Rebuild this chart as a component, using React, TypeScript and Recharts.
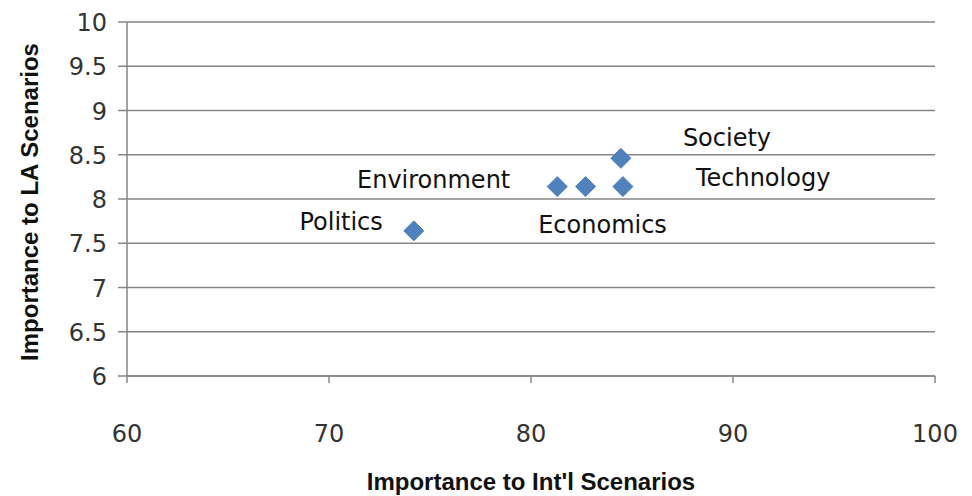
import { CartesianGrid, Scatter, ScatterChart, XAxis, YAxis } from "recharts";

const topics = ["Politics", "Environment", "Economics", "Society", "Technology"];
const intlScore = [74.2, 81.3, 82.7, 84.45, 84.55];
const laScore = [7.64, 8.14, 8.14, 8.46, 8.14];
const xTicks = [60, 70, 80, 90, 100];
const yTicks = [6, 6.5, 7, 7.5, 8, 8.5, 9, 9.5, 10];

const data = topics.map((name, i) => ({ name, x: intlScore[i], y: laScore[i] }));

// where each point's label sits relative to the marker (baseline offsets)
const labelPos: Record<string, { dx: number; dy: number; anchor: "start" | "middle" | "end" }> = {
  Politics: { dx: -31, dy: -1, anchor: "end" },
  Environment: { dx: -47, dy: 1, anchor: "end" },
  Economics: { dx: 17, dy: 46, anchor: "middle" },
  Society: { dx: 62, dy: -12, anchor: "start" },
  Technology: { dx: 73, dy: -1, anchor: "start" },
};

const LABEL_FONT = "DejaVu Sans, sans-serif";
const TITLE_FONT = "Liberation Sans, Arial, sans-serif";
const BLUE = "#4F81BD";

function Diamond(props: any) {
  const { cx, cy, payload } = props;
  const p = labelPos[payload.name];
  return (
    <g>
      <polygon points={`${cx},${cy - 10} ${cx + 10},${cy} ${cx},${cy + 10} ${cx - 10},${cy}`} fill={BLUE} stroke={BLUE} strokeWidth={1} strokeLinejoin="round" />
      <text x={cx + p.dx} y={cy + p.dy} textAnchor={p.anchor} fontFamily={LABEL_FONT} fontSize={24} fill="#111">
        {payload.name}
      </text>
    </g>
  );
}

function YTick({ x, y, payload }: any) {
  return (
    <text x={x - 9} y={y + 9} textAnchor="end" fontFamily={LABEL_FONT} fontSize={24} fill="#333">
      {payload.value}
    </text>
  );
}

function XTick({ x, y, payload }: any) {
  return (
    <text x={x} y={y + 57} textAnchor="middle" fontFamily={LABEL_FONT} fontSize={24} fill="#333">
      {payload.value}
    </text>
  );
}

export default function App() {
  return (
    <div style={{ position: "absolute", left: 0, top: 0, width: 972, height: 496, background: "#fff" }}>
      <ScatterChart width={972} height={496} margin={{ top: 22, right: 37, bottom: 0, left: 0 }}>
        <CartesianGrid horizontal vertical={false} stroke="#868686" strokeWidth={1.5} />
        <XAxis
          type="number"
          dataKey="x"
          domain={[60, 100]}
          ticks={xTicks}
          height={120}
          stroke="#868686"
          strokeWidth={1.5}
          tickSize={7}
          tick={<XTick />}
          label={{
            content: ({ viewBox }: any) => (
              <text x={viewBox.x + viewBox.width / 2} y={490} textAnchor="middle" fontFamily={TITLE_FONT} fontSize={24} fontWeight="bold" fill="#111">
                Importance to Int'l Scenarios
              </text>
            ),
          }}
        />
        <YAxis
          type="number"
          dataKey="y"
          domain={[6, 10]}
          ticks={yTicks}
          width={127}
          stroke="#868686"
          strokeWidth={1.5}
          tickSize={9}
          tick={<YTick />}
          label={{
            content: ({ viewBox }: any) => {
              const cy = viewBox.y + viewBox.height / 2 + 3;
              return (
                <text x={38} y={cy} transform={`rotate(-90 38 ${cy})`} textAnchor="middle" fontFamily={TITLE_FONT} fontSize={24} fontWeight="bold" fill="#111">
                  Importance to LA Scenarios
                </text>
              );
            },
          }}
        />
        <Scatter data={data} shape={<Diamond />} isAnimationActive={false} />
      </ScatterChart>
    </div>
  );
}
